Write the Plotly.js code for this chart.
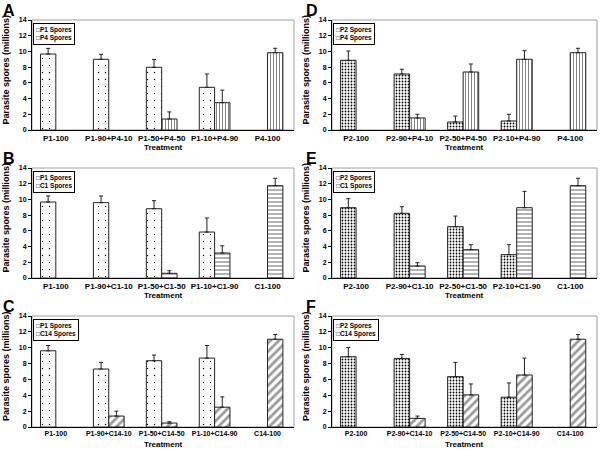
<!DOCTYPE html>
<html>
<head>
<meta charset="utf-8">
<script src="https://cdn.plot.ly/plotly-3.0.1.min.js"></script>
<style>
  body { margin: 0; background: #fff; }
  #chart { width: 600px; height: 450px; }
</style>
</head>
<body>
<div id="chart"></div>
<script>
// A: P1 + P4
const treatmentsA = ['P1-100', 'P1-90+P4-10', 'P1-50+P4-50', 'P1-10+P4-90', 'P4-100'];
const p1SporesA = [9.67, 9.0, 7.98, 5.43, null];
const p1ErrorA = [0.72, 0.63, 1.0, 1.7, null];
const p4SporesA = [null, null, 1.4, 3.48, 9.84];
const p4ErrorA = [null, null, 0.9, 1.6, 0.56];

// D: P2 + P4
const treatmentsD = ['P2-100', 'P2-90+P4-10', 'P2-50+P4-50', 'P2-10+P4-90', 'P4-100'];
const p2SporesD = [8.87, 7.13, 1.02, 1.15, null];
const p2ErrorD = [1.18, 0.6, 0.75, 0.85, null];
const p4SporesD = [null, 1.53, 7.38, 9.0, 9.84];
const p4ErrorD = [null, 0.47, 1.02, 1.1, 0.56];

// B: P1 + C1
const treatmentsB = ['P1-100', 'P1-90+C1-10', 'P1-50+C1-50', 'P1-10+C1-90', 'C1-100'];
const p1SporesB = [9.67, 9.59, 8.82, 5.85, null];
const p1ErrorB = [0.77, 0.85, 1.02, 1.79, null];
const c1SporesB = [null, null, 0.6, 3.18, 11.75];
const c1ErrorB = [null, null, 0.33, 0.92, 0.94];

// E: P2 + C1
const treatmentsE = ['P2-100', 'P2-90+C1-10', 'P2-50+C1-50', 'P2-10+C1-90', 'C1-100'];
const p2SporesE = [8.95, 8.23, 6.53, 2.97, null];
const p2ErrorE = [1.15, 0.85, 1.35, 1.27, null];
const c1SporesE = [null, 1.53, 3.6, 8.95, 11.75];
const c1ErrorE = [null, 0.42, 0.64, 2.08, 0.94];

// C: P1 + C14
const treatmentsC = ['P1-100', 'P1-90+C14-10', 'P1-50+C14-50', 'P1-10+C14-90', 'C14-100'];
const p1SporesC = [9.61, 7.31, 8.36, 8.69, null];
const p1ErrorC = [0.67, 0.84, 0.71, 1.59, null];
const c14SporesC = [null, 1.38, 0.5, 2.5, 11.07];
const c14ErrorC = [null, 0.62, 0.17, 1.3, 0.59];

// F: P2 + C14
const treatmentsF = ['P2-100', 'P2-90+C14-10', 'P2-50+C14-50', 'P2-10+C14-90', 'C14-100'];
const p2SporesF = [8.86, 8.65, 6.35, 3.76, null];
const p2ErrorF = [1.17, 0.5, 1.8, 1.8, null];
const c14SporesF = [null, 1.09, 4.05, 6.56, 11.07];
const c14ErrorF = [null, 0.29, 1.38, 2.13, 0.59];

const yTicks = [0, 2, 4, 6, 8, 10, 12, 14];

// 塗りパターン
const patterns = {
    P1: { shape: '.', fgcolor: '#000', bgcolor: '#fff', size: 7, solidity: 0.03, fillmode: 'replace' },
    P2: { shape: '.', fgcolor: '#000', bgcolor: '#fff', size: 3, solidity: 0.28, fillmode: 'replace' },
    P4: { shape: '|', fgcolor: '#777', bgcolor: '#fff', size: 3, solidity: 0.3, fillmode: 'replace' },
    C1: { shape: '-', fgcolor: '#666', bgcolor: '#fff', size: 4, solidity: 0.25, fillmode: 'replace' },
    C14: { shape: '/', fgcolor: '#999', bgcolor: '#fff', size: 6, solidity: 0.45, fillmode: 'replace' }
};

const W = 600, H = 450;
const colPx = [[32, 294], [332, 597]];
const rowPx = [[20, 130], [168, 278], [316, 427]];
const tickSize = [8, 8, 7];
const FONT = 'Liberation Sans, Arial, sans-serif';

const panels = [
    { letter: 'A', col: 0, row: 0, cats: treatmentsA, names: ['P1', 'P4'], values: [p1SporesA, p4SporesA], errors: [p1ErrorA, p4ErrorA] },
    { letter: 'D', col: 1, row: 0, cats: treatmentsD, names: ['P2', 'P4'], values: [p2SporesD, p4SporesD], errors: [p2ErrorD, p4ErrorD] },
    { letter: 'B', col: 0, row: 1, cats: treatmentsB, names: ['P1', 'C1'], values: [p1SporesB, c1SporesB], errors: [p1ErrorB, c1ErrorB] },
    { letter: 'E', col: 1, row: 1, cats: treatmentsE, names: ['P2', 'C1'], values: [p2SporesE, c1SporesE], errors: [p2ErrorE, c1ErrorE] },
    { letter: 'C', col: 0, row: 2, cats: treatmentsC, names: ['P1', 'C14'], values: [p1SporesC, c14SporesC], errors: [p1ErrorC, c14ErrorC] },
    { letter: 'F', col: 1, row: 2, cats: treatmentsF, names: ['P2', 'C14'], values: [p2SporesF, c14SporesF], errors: [p2ErrorF, c14ErrorF] }
];

function px2x(p) { return p / W; }
function px2y(p) { return 1 - p / H; }

const data = [];
const layout = {
    width: W,
    height: H,
    margin: { l: 0, r: 0, t: 0, b: 0 },
    paper_bgcolor: '#fff',
    plot_bgcolor: '#fff',
    showlegend: false,
    barmode: 'group',
    bargap: 0.42,
    bargroupgap: 0,
    font: { family: FONT, color: '#000' },
    annotations: [],
    shapes: []
};

panels.forEach((panel, i) => {
    const n = i + 1;
    const xa = 'x' + (n === 1 ? '' : n);
    const ya = 'y' + (n === 1 ? '' : n);
    const [x0, x1] = colPx[panel.col];
    const [y0, y1] = rowPx[panel.row];

    panel.names.forEach((name, k) => {
        data.push({
            type: 'bar',
            name: name + ' Spores',
            x: panel.cats,
            y: panel.values[k],
            xaxis: xa,
            yaxis: ya,
            marker: {
                color: '#fff',
                line: { color: '#222', width: 1 },
                pattern: patterns[name]
            },
            error_y: {
                type: 'data',
                symmetric: false,
                array: panel.errors[k],
                arrayminus: panel.errors[k].map(() => 0),
                color: '#222',
                thickness: 1,
                width: 2
            },
            hoverinfo: 'skip'
        });
    });

    layout['xaxis' + (n === 1 ? '' : n)] = {
        domain: [px2x(x0), px2x(x1)],
        anchor: ya,
        type: 'category',
        range: [-0.45, 4.5],
        showline: true,
        linecolor: '#000',
        linewidth: 1,
        ticks: '',
        tickangle: 0,
        showgrid: false,
        zeroline: false,
        tickfont: { size: tickSize[panel.row], weight: 'bold', family: FONT }
    };
    layout['yaxis' + (n === 1 ? '' : n)] = {
        domain: [px2y(y1), px2y(y0)],
        anchor: xa,
        range: [0, 14],
        tickvals: yTicks,
        ticks: 'outside',
        ticklen: 3,
        tickcolor: '#000',
        showline: true,
        linecolor: '#000',
        linewidth: 1,
        showgrid: false,
        zeroline: false,
        tickfont: { size: 7, weight: 'bold', family: FONT }
    };

    // プロットエリアの灰色の枠
    layout.shapes.push({
        type: 'rect',
        xref: 'paper', yref: 'paper',
        x0: px2x(x0), x1: px2x(x1), y0: px2y(y1), y1: px2y(y0),
        line: { color: '#a0a0a0', width: 1 },
        layer: 'below'
    });

    // パネル記号
    layout.annotations.push({
        text: panel.letter,
        xref: 'paper', yref: 'paper',
        x: px2x(panel.col === 0 ? 1 : 304), y: px2y(y0 - 20),
        xanchor: 'left', yanchor: 'top',
        showarrow: false,
        font: { size: 16, weight: 'bold', family: FONT }
    });

    // 縦軸タイトル
    layout.annotations.push({
        text: 'Parasite spores (millions)',
        xref: 'paper', yref: 'paper',
        x: px2x(x0 - 26.5), y: px2y((y0 + y1) / 2 - 5),
        xanchor: 'center', yanchor: 'middle',
        textangle: -90,
        showarrow: false,
        font: { size: 9, weight: 'bold', family: FONT }
    });

    // 横軸タイトル
    layout.annotations.push({
        text: 'Treatment',
        xref: 'paper', yref: 'paper',
        x: px2x((x0 + x1) / 2), y: px2y(y1 + 17.5),
        xanchor: 'center', yanchor: 'middle',
        showarrow: false,
        font: { size: 8, weight: 'bold', family: FONT }
    });

    // 凡例
    layout.annotations.push({
        text: panel.names.map(s => '□' + s + ' Spores').join('<br>'),
        xref: 'paper', yref: 'paper',
        x: px2x(x0 + 1), y: px2y(y0 + 3),
        xanchor: 'left', yanchor: 'top',
        align: 'left',
        showarrow: false,
        bordercolor: '#000',
        borderwidth: 1,
        borderpad: 2,
        bgcolor: '#fff',
        font: { size: 6.5, weight: 'bold', family: FONT }
    });
});

Plotly.newPlot('chart', data, layout, { displayModeBar: false, staticPlot: true });
</script>
</body>
</html>
